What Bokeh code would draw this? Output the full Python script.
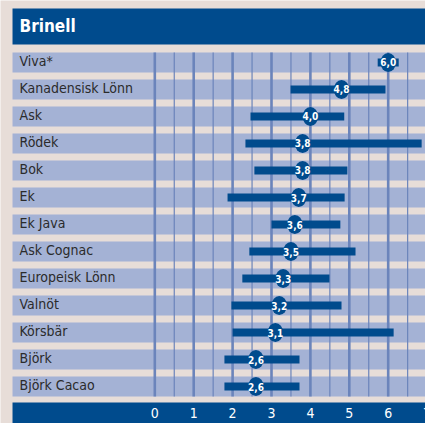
from bokeh.plotting import figure
from bokeh.models import Range1d, ColumnDataSource
from bokeh.core.properties import value
from bokeh.embed import file_html
from bokeh.resources import INLINE

title_text = "Brinell"
names = ["Viva*", "Kanadensisk Lönn", "Ask", "Rödek", "Bok", "Ek", "Ek Java",
         "Ask Cognac", "Europeisk Lönn", "Valnöt", "Körsbär", "Björk", "Björk Cacao"]
means = [6.0, 4.8, 4.0, 3.8, 3.8, 3.7, 3.6, 3.5, 3.3, 3.2, 3.1, 2.6, 2.6]
mins = [5.73, 3.49, 2.46, 2.33, 2.56, 1.87, 3.0, 2.43, 2.25, 1.97, 2.0, 1.79, 1.79]
maxs = [6.27, 5.93, 4.87, 6.86, 4.95, 4.88, 4.77, 5.16, 4.49, 4.80, 6.14, 3.72, 3.72]
major_ticks = [0, 1, 2, 3, 4, 5, 6]
minor_ticks = [0.5, 1.5, 2.5, 3.5, 4.5, 5.5, 6.5]
tick_labels = ["0", "1", "2", "3", "4", "5", "6", "7"]

BEIGE = "#e7ddd8"
ROW = "#a4b2d5"
GRID = "#6b84bb"
DARK = "#004b8d"
TXT = "#2b2b2b"
FONT = "DejaVu Sans Condensed"

n = len(names)
rows = list(range(n))
x_left, x_right = -3.967, 6.959
band_left = -3.658

p = figure(width=425, height=423, output_backend="svg", toolbar_location=None,
           x_range=Range1d(x_left, x_right), y_range=Range1d(13.37, -2.296),
           min_border=0, outline_line_color=None,
           background_fill_color=BEIGE, border_fill_color=BEIGE)
p.axis.visible = False
p.grid.visible = False

# title band
p.quad(left=band_left, right=8, top=-2.0, bottom=-0.667, color=DARK, line_color=None)
p.text(x=[band_left], y=[-1.34], text=[title_text], x_offset=7,
       text_font=value(FONT), text_font_style="bold", text_font_size="17px",
       text_color="white", text_baseline="middle", text_align="left")

# row bands
p.hbar(y=rows, left=band_left, right=8, height=20 / 27, color=ROW, line_color=None)

# axis band
p.quad(left=band_left, right=8, top=12.59, bottom=14, color=DARK, line_color=None)
tick_x = list(range(len(tick_labels)))
p.text(x=tick_x, y=[12.98] * len(tick_x), text=tick_labels,
       text_font=value(FONT), text_font_size="14px", text_color="white",
       text_align="center", text_baseline="middle")

# grid lines
gy0, gy1 = -0.37, n - 1 + 0.37
p.segment(x0=minor_ticks, x1=minor_ticks, y0=gy0, y1=gy1, line_color=GRID, line_width=1.2)
p.segment(x0=major_ticks, x1=major_ticks, y0=gy0, y1=gy1, line_color=GRID, line_width=2.6)

# category labels
p.text(x=[band_left] * n, y=[r - 0.04 for r in rows], text=names, x_offset=7,
       text_font=value(FONT), text_font_size="14px", text_color=TXT,
       text_align="left", text_baseline="middle")

# range bars
src = ColumnDataSource(dict(y=rows, lo=mins, hi=maxs, m=means,
                            lab=[f"{v:.1f}".replace(".", ",") for v in means]))
p.hbar(y="y", left="lo", right="hi", height=8 / 27, color=DARK, line_color=None, source=src)
p.ellipse(x="m", y="y", width=15.5, height=19, width_units="screen", height_units="screen",
          color=DARK, line_color=None, source=src)
p.text(x="m", y="y", text="lab", source=src, text_font=value(FONT), text_font_style="bold",
       text_font_size="10px", text_color="white", text_align="center", text_baseline="middle")

html = file_html(p, INLINE)
html = html.replace("<body>", '<body style="background-color:%s;">' % BEIGE, 1)
open("out.html", "w").write(html)
